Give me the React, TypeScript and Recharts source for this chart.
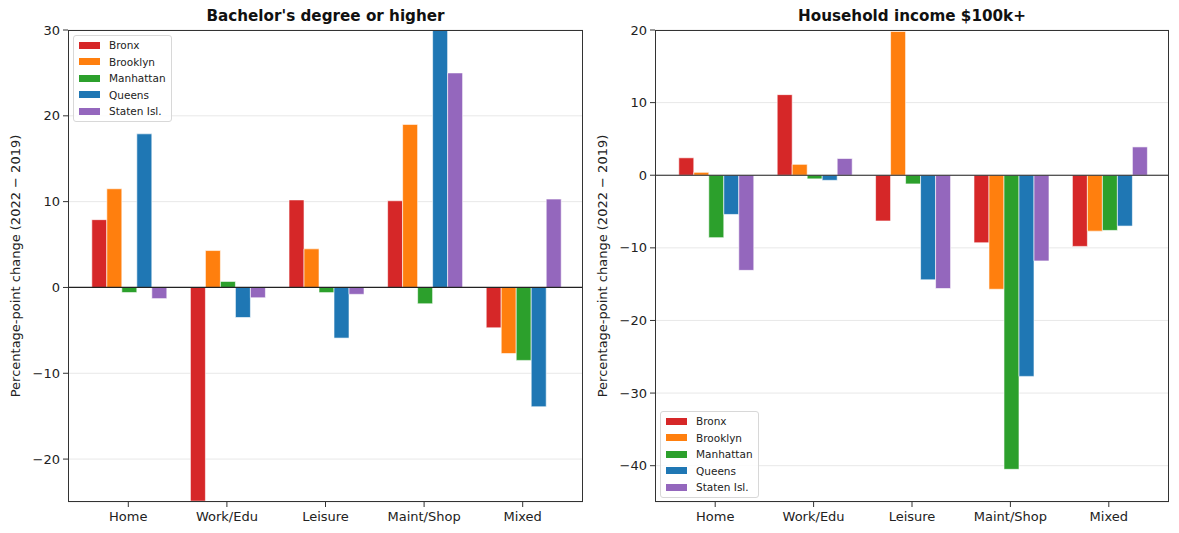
import { BarChart, Bar, XAxis, YAxis, CartesianGrid, ReferenceLine } from 'recharts';

const categories = ['Home', 'Work/Edu', 'Leisure', 'Maint/Shop', 'Mixed'];
const boroughs = ['Bronx', 'Brooklyn', 'Manhattan', 'Queens', 'Staten Isl.'];
const colors = ['#d62728', '#ff7f0e', '#2ca02c', '#1f77b4', '#9467bd'];

// Bachelor's degree or higher, pp change 2022 - 2019
const bronxBach = [7.9, -24.9, 10.2, 10.1, -4.7];
const brooklynBach = [11.5, 4.3, 4.5, 19.0, -7.7];
const manhattanBach = [-0.6, 0.7, -0.6, -1.9, -8.5];
const queensBach = [17.9, -3.5, -5.9, 30.5, -13.9];
const statenBach = [-1.3, -1.2, -0.8, 25.0, 10.3];

// Household income $100k+
const bronxInc = [2.4, 11.1, -6.3, -9.3, -9.8];
const brooklynInc = [0.4, 1.5, 19.8, -15.7, -7.7];
const manhattanInc = [-8.6, -0.5, -1.2, -40.5, -7.6];
const queensInc = [-5.4, -0.7, -14.4, -27.7, -7.0];
const statenInc = [-13.1, 2.3, -15.6, -11.8, 3.9];

const bachTicks = [-20, -10, 0, 10, 20, 30];
const incTicks = [-40, -30, -20, -10, 0, 10, 20];

const FONT = '"DejaVu Sans", sans-serif';
const Y_LABEL = 'Percentage-point change (2022 \u2212 2019)';

function buildRows(series: number[][]) {
  return categories.map((c, i) => {
    const row: Record<string, string | number> = { cat: c };
    boroughs.forEach((b, j) => {
      row[b] = series[j][i];
    });
    return row;
  });
}

const bachData = buildRows([bronxBach, brooklynBach, manhattanBach, queensBach, statenBach]);
const incData = buildRows([bronxInc, brooklynInc, manhattanInc, queensInc, statenInc]);

// matplotlib-style minus sign
const fmtTick = (v: number) => String(v).replace('-', '\u2212');

function LegendBox({ left, top }: { left: number; top: number }) {
  return (
    <div
      style={{
        position: 'absolute',
        left,
        top,
        width: 99,
        padding: '1px 0 1px 5px',
        background: 'rgba(255,255,255,0.85)',
        border: '1px solid #d8d8d8',
        borderRadius: 3,
        fontFamily: FONT,
        fontSize: 10.5,
        color: '#222',
        boxSizing: 'border-box',
      }}
    >
      {boroughs.map((b, i) => (
        <div key={b} style={{ display: 'flex', alignItems: 'center', height: 16.5 }}>
          <span style={{ width: 21, height: 7, background: colors[i], marginRight: 9, flexShrink: 0 }} />
          <span>{b}</span>
        </div>
      ))}
    </div>
  );
}

type PanelProps = {
  left: number;
  width: number;
  yWidth: number;
  marginRight: number;
  title: string;
  data: Record<string, string | number>[];
  domain: [number, number];
  ticks: number[];
  legendTop: number;
};

function Panel({ left, width, yWidth, marginRight, title, data, domain, ticks, legendTop }: PanelProps) {
  const plotLeft = yWidth;
  const plotRight = width - marginRight;
  const plotTop = 30;
  const plotBottom = 502;
  return (
    <div style={{ position: 'absolute', left, top: 0, width, height: 533 }}>
      <BarChart
        width={width}
        height={533}
        data={data}
        margin={{ top: plotTop, right: marginRight, bottom: 0, left: 0 }}
        barCategoryGap="13%"
        barGap={0}
        style={{ fontFamily: FONT }}
      >
        <CartesianGrid vertical={false} stroke="#e8e8e8" strokeWidth={1} />
        <XAxis
          dataKey="cat"
          height={533 - plotBottom}
          padding={{ left: 11, right: 11 }}
          axisLine={false}
          tickSize={5}
          tickMargin={5}
          tickLine={{ stroke: '#333' }}
          tick={{ fill: '#222', fontSize: 13 }}
          interval={0}
        />
        <YAxis
          width={yWidth}
          domain={domain}
          ticks={ticks}
          allowDataOverflow
          axisLine={false}
          tickSize={5}
          tickMargin={3}
          tickLine={{ stroke: '#333' }}
          tick={{ fill: '#222', fontSize: 13 }}
          tickFormatter={fmtTick}
        />
        {boroughs.map((b, i) => (
          <Bar
            key={b}
            dataKey={b}
            fill={colors[i]}
            stroke="#ffffff"
            strokeWidth={0.6}
            isAnimationActive={false}
          />
        ))}
        <ReferenceLine y={0} stroke="#222" strokeWidth={1.2} />
      </BarChart>
      <div
        style={{
          position: 'absolute',
          left: plotLeft,
          top: plotTop,
          width: plotRight - plotLeft,
          height: plotBottom - plotTop,
          border: '1.2px solid #333',
          boxSizing: 'border-box',
          pointerEvents: 'none',
        }}
      />
      <div
        style={{
          position: 'absolute',
          left: plotLeft,
          width: plotRight - plotLeft,
          top: 7,
          textAlign: 'center',
          fontFamily: FONT,
          fontWeight: 'bold',
          fontSize: 15.2,
          color: '#111',
        }}
      >
        {title}
      </div>
      <div
        style={{
          position: 'absolute',
          left: 16 - 200,
          top: 266 - 9,
          width: 400,
          height: 18,
          lineHeight: '18px',
          textAlign: 'center',
          transform: 'rotate(-90deg)',
          fontFamily: FONT,
          fontSize: 13,
          color: '#222',
          whiteSpace: 'nowrap',
        }}
      >
        {Y_LABEL}
      </div>
      <LegendBox left={plotLeft + 5} top={legendTop} />
    </div>
  );
}

export default function App() {
  return (
    <div style={{ position: 'absolute', left: 0, top: 0, width: 1179, height: 533, background: '#fff' }}>
      <Panel
        left={0}
        width={590}
        yWidth={68}
        marginRight={7}
        title="Bachelor's degree or higher"
        data={bachData}
        domain={[-25, 30]}
        ticks={bachTicks}
        legendTop={35}
      />
      <Panel
        left={587}
        width={592}
        yWidth={68}
        marginRight={10}
        title="Household income $100k+"
        data={incData}
        domain={[-45, 20]}
        ticks={incTicks}
        legendTop={411}
      />
    </div>
  );
}
